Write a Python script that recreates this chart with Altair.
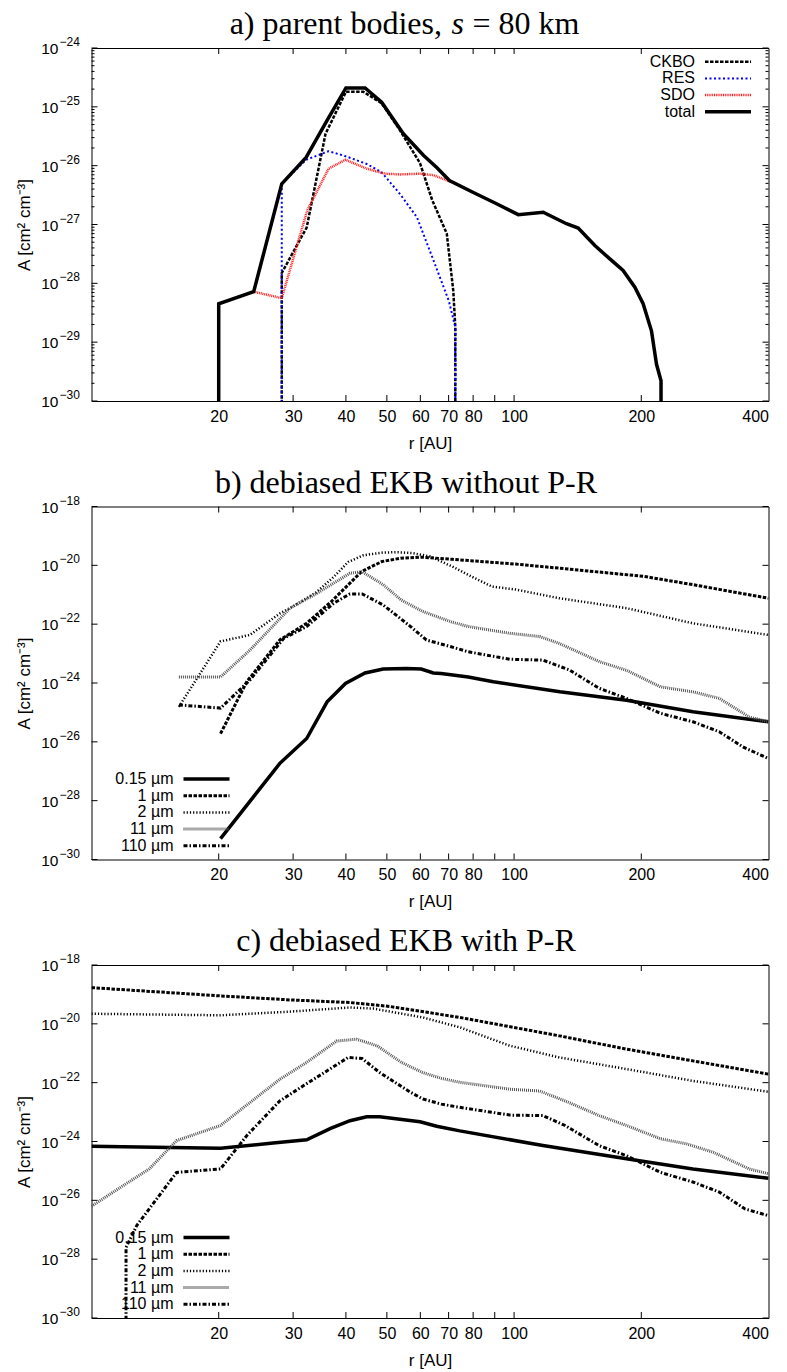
import altair as alt
import pandas as pd

# ---------------- panel a: parent bodies ----------------
A_CKBO_R = [28.2, 28.2, 32.3, 35.8, 40.0, 44.0, 48.6, 53.7, 59.9, 64.0, 69.3, 71.8, 72.6, 72.6]
A_CKBO_A = [1e-32, 1.5e-28, 8.9e-28, 3.5e-26, 1.8e-25, 1.8e-25, 1.15e-25, 4e-26, 1.1e-26, 2.6e-27, 7e-28, 7.5e-29, 1.8e-29, 1e-32]
A_RES_R = [28.2, 28.2, 32.2, 36.4, 39.9, 44.8, 48.6, 53.7, 58.9, 64.4, 70.1, 72.6, 72.6]
A_RES_A = [1e-32, 4.9e-27, 1.26e-26, 1.76e-26, 1.45e-26, 1.07e-26, 7.7e-27, 3.3e-27, 1.33e-27, 2.5e-28, 5e-29, 1.8e-29, 1e-32]
A_SDO_R = [24.2, 28.2, 32.4, 36.4, 39.9, 44.8, 49.5, 53.7, 59.9, 64.4, 71.4]
A_SDO_A = [7.2e-29, 5.6e-29, 1.74e-27, 8.9e-27, 1.26e-26, 8.9e-27, 7.3e-27, 7.1e-27, 7.3e-27, 6.9e-27, 5.2e-27]
A_TOT_R = [20, 20, 24.2, 28.2, 32.2, 36.1, 40.0, 44.4, 48.6, 54.7, 61.0, 65.6, 70.3, 80.1, 90.9,
           102.3, 117.2, 133, 141.8, 155.3, 168.5, 181.1, 193.1, 202, 211.4, 217.3, 222.7, 222.7]
A_TOT_A = [1e-32, 4.5e-29, 7.2e-29, 4.9e-27, 1.38e-26, 5.9e-26, 2.1e-25, 2.1e-25, 1.2e-25, 3.5e-26, 1.5e-26,
           9.3e-27, 5.6e-27, 3.5e-27, 2.25e-27, 1.47e-27, 1.62e-27, 1.03e-27, 8.7e-28, 4.4e-28, 2.6e-28,
           1.66e-28, 8.6e-29, 4.5e-29, 1.56e-29, 4.2e-30, 2.2e-30, 1e-32]

# ---------------- panel b: debiased EKB without P-R ----------------
B_015_R = [20.2, 27.9, 32.3, 36.1, 39.9, 44.4, 49, 55.6, 60.3, 64.4, 67.2, 77.9, 89.3, 128.3, 184.5, 265, 400]
B_015_A = [5.1e-30, 1.86e-27, 1.3e-26, 2.3e-25, 9.7e-25, 2.2e-24, 3e-24, 3.1e-24, 3e-24, 2.2e-24, 2.1e-24,
           1.6e-24, 1.1e-24, 5e-25, 2.6e-25, 1.05e-25, 4.8e-26]
B_1_R = [20.2, 23.3, 27.9, 32.3, 37, 43.6, 48.7, 54, 60.4, 71.4, 101, 128, 203, 265, 400]
B_1_A = [1.9e-26, 1.1e-24, 2.9e-23, 1.07e-22, 6e-22, 6.2e-21, 1.35e-20, 1.75e-20, 1.9e-20, 1.6e-20, 1.1e-20,
         8e-21, 4.2e-21, 2.2e-21, 7.6e-22]
B_2_R = [16.1, 20.2, 23.7, 27.9, 30, 34, 37.4, 40.5, 44, 48.7, 53, 57.5, 63.3, 71.4, 79.2, 88.6, 101, 128,
         184.5, 265, 400]
B_2_A = [1.55e-25, 2.6e-23, 4.3e-23, 2.3e-22, 4e-22, 1.2e-21, 4e-21, 1.3e-20, 2.2e-20, 2.7e-20, 2.8e-20, 2.6e-20,
         2e-20, 9.1e-21, 4.2e-21, 1.9e-21, 1.5e-21, 7.6e-22, 3.5e-22, 1.07e-22, 4.3e-23]
B_11_R = [16.1, 20.2, 23.7, 29.5, 34.1, 40.9, 43.7, 49, 54.1, 60.8, 71, 77.9, 97.7, 115, 128, 159.3, 184.5,
          222, 265, 306, 360, 400]
B_11_A = [1.6e-24, 1.6e-24, 1.3e-23, 3.5e-22, 1.1e-21, 5.4e-21, 6.1e-21, 2.2e-21, 6.6e-22, 2.7e-22, 1.2e-22,
          8.3e-23, 4.9e-23, 3.8e-23, 2.2e-23, 5.3e-24, 2.7e-24, 7.4e-25, 5e-25, 3e-25, 7e-26, 4.8e-26]
B_110_R = [16.1, 20.2, 23.7, 28.5, 32.3, 37.4, 40.9, 43.7, 49, 56.9, 62, 71, 77.9, 97.7, 117, 135, 159, 184.5,
           222, 265, 306, 348, 400]
B_110_A = [1.8e-25, 1.4e-25, 1.25e-24, 3.3e-23, 8.3e-23, 5.1e-22, 1.07e-21, 1.07e-21, 4.5e-22, 8.3e-23, 2.9e-23,
           1.7e-23, 1.15e-23, 6.4e-24, 6e-24, 2.8e-24, 6.6e-25, 3e-25, 9.3e-26, 4.8e-26, 2.2e-26, 6.7e-27, 2.7e-27]

# ---------------- panel c: debiased EKB with P-R ----------------
C_015_R = [10, 15.4, 20.2, 26.9, 32.3, 36.8, 40.9, 44.8, 48.1, 59.9, 65.6, 74.4, 117, 184.5, 265, 400]
C_015_A = [6.9e-25, 6.3e-25, 5.9e-25, 8.9e-25, 1.15e-24, 2.8e-24, 5.1e-24, 6.9e-24, 6.9e-24, 4.7e-24, 3.3e-24,
           2.3e-24, 7.3e-25, 2.6e-25, 1.17e-25, 5.6e-26]
C_1_R = [10, 20.2, 29.5, 40.9, 50.8, 74.4, 128, 184.5, 265, 400]
C_1_A = [1.7e-19, 8.9e-20, 6.5e-20, 5.3e-20, 3.9e-20, 1.65e-20, 3.9e-21, 1.38e-21, 5.5e-22, 1.95e-22]
C_2_R = [10, 20.2, 29.5, 40.9, 46.4, 60.8, 74.4, 97.7, 128, 184.5, 265, 400]
C_2_A = [2.2e-20, 1.95e-20, 2.6e-20, 3.6e-20, 3.3e-20, 1.65e-20, 7.6e-21, 1.8e-21, 7.2e-22, 2.9e-22, 1.15e-22, 4.9e-23]
C_11_R = [10, 11.9, 13.7, 15.9, 20.2, 23.7, 27.9, 32.3, 38, 42.4, 47.4, 54.1, 60.8, 67.3, 74.4, 97.7, 115, 135,
          159, 184.5, 222, 256, 296, 360, 400]
C_11_A = [6.3e-27, 3.2e-26, 1.17e-25, 1.07e-24, 3.5e-24, 2.1e-23, 1.3e-22, 4.9e-22, 2.6e-21, 3e-21, 1.8e-21,
          4.9e-22, 2.2e-22, 1.4e-22, 1.03e-22, 6e-23, 5.2e-23, 2.1e-23, 7.6e-24, 3.5e-24, 1.24e-24, 8.3e-25,
          4.3e-25, 1.17e-25, 8e-26]
C_110_R = [12.07, 12.07, 12.8, 15.9, 20.2, 23.3, 27.9, 31.7, 40.5, 43.7, 48.1, 56.9, 60.8, 67.3, 74.4, 97.7, 117,
           132, 159, 184.5, 222, 265, 306, 352, 400]
C_110_A = [1e-32, 2.5e-28, 1.4e-27, 8.9e-26, 1.17e-25, 1.58e-24, 2.4e-23, 7.8e-23, 7.2e-22, 6.6e-22, 2.2e-22,
           4.7e-23, 2.8e-23, 1.86e-23, 1.45e-23, 7.9e-24, 7.6e-24, 3.5e-24, 7.2e-25, 3.3e-25, 8.9e-26, 4.2e-26,
           1.9e-26, 5.1e-27, 3e-27]

# ---------------- ticks and labels ----------------
X_TICKS = [20, 30, 40, 50, 60, 70, 80, 90, 100, 200]
X_LABELS = [20, 30, 40, 50, 60, 70, 80, 100, 200, 400]
Y_MAJOR_A = [1e-30, 1e-29, 1e-28, 1e-27, 1e-26, 1e-25, 1e-24]
Y_EXP_A = ["\u221230", "\u221229", "\u221228", "\u221227", "\u221226", "\u221225", "\u221224"]
Y_MAJOR_BC = [1e-30, 1e-28, 1e-26, 1e-24, 1e-22, 1e-20, 1e-18]
Y_EXP_BC = ["\u221230", "\u221228", "\u221226", "\u221224", "\u221222", "\u221220", "\u221218"]
Y_MINOR_A = [m * 10.0 ** e for e in range(-30, -24) for m in range(2, 10)]

LEG_A = ["CKBO", "RES", "SDO", "total"]
LEG_BC = ["0.15 \u00b5m", "1 \u00b5m", "2 \u00b5m", "11 \u00b5m", "110 \u00b5m"]

W, H = 677, 353
SANS = "Liberation Sans"
SERIF = "Liberation Serif"

ST_TOTAL = dict(color="black", strokeWidth=3.5)
ST_CKBO = dict(color="black", strokeWidth=2.5, strokeDash=[3.5, 1.5])
ST_RES = dict(color="#0000ff", strokeWidth=2, strokeDash=[2, 2.5])
ST_SDO = dict(color="#ff2020", strokeWidth=2.5, strokeDash=[1, 0.8])
ST_015 = dict(color="black", strokeWidth=3.5)
ST_1 = dict(color="black", strokeWidth=3, strokeDash=[3.5, 1.5])
ST_2 = dict(color="black", strokeWidth=2.5, strokeDash=[1.2, 2])
ST_11 = dict(color="#555555", strokeWidth=3, strokeDash=[1, 1])
ST_110 = dict(color="black", strokeWidth=3, strokeDash=[4, 2, 1.5, 2])


def make_panel(series, ydom, ymaj, yexp, yminor, leg_labels, leg_styles, leg_x, leg_y0, leg_dy, titles):
    xs = alt.Scale(type="log", domain=[10, 400])
    ys = alt.Scale(type="log", domain=ydom)
    xax = alt.Axis(values=X_LABELS, format="d", ticks=False, domain=False, grid=False,
                   labelPadding=7, title="r [AU]", titlePadding=11)
    yax = alt.Axis(labels=False, ticks=False, domain=False, grid=False,
                   title="A [cm\u00b2 cm\u207b\u00b3]", titlePadding=58)
    layers = []
    for r, a, st in series:
        df = pd.DataFrame({"r": r, "A": a, "i": list(range(len(r)))})
        layers.append(alt.Chart(df).mark_line(clip=True, **st).encode(
            x=alt.X("r:Q", scale=xs, axis=xax),
            y=alt.Y("A:Q", scale=ys, axis=yax),
            order=alt.Order("i:Q")))
    # inward ticks
    xt = pd.DataFrame({"v": X_TICKS})
    for y1, y2 in [(H, H - 6), (0, 6)]:
        layers.append(alt.Chart(xt).mark_rule(color="black", strokeWidth=1).encode(
            x=alt.X("v:Q", scale=xs, axis=xax), y=alt.value(y1), y2=alt.value(y2)))
    yt = pd.DataFrame({"v": ymaj})
    for x1, x2 in [(0, 6), (W, W - 6)]:
        layers.append(alt.Chart(yt).mark_rule(color="black", strokeWidth=1).encode(
            y=alt.Y("v:Q", scale=ys, axis=yax), x=alt.value(x1), x2=alt.value(x2)))
    if yminor:
        ym = pd.DataFrame({"v": yminor})
        for x1, x2 in [(0, 3), (W, W - 3)]:
            layers.append(alt.Chart(ym).mark_rule(color="black", strokeWidth=1).encode(
                y=alt.Y("v:Q", scale=ys, axis=yax), x=alt.value(x1), x2=alt.value(x2)))
    # y tick labels 10^n
    yl = pd.DataFrame({"v": ymaj, "e": yexp})
    layers.append(alt.Chart(yl).mark_text(align="right", baseline="middle", font=SANS, fontSize=15.5,
                                          text="10", dy=1).encode(
        y=alt.Y("v:Q", scale=ys, axis=yax), x=alt.value(-33)))
    layers.append(alt.Chart(yl).mark_text(align="left", baseline="middle", font=SANS, fontSize=12,
                                          dy=-6).encode(
        y=alt.Y("v:Q", scale=ys, axis=yax), x=alt.value(-32), text="e:N"))
    # legend
    for j, (lab, st) in enumerate(zip(leg_labels, leg_styles)):
        yy = leg_y0 + j * leg_dy
        one = pd.DataFrame({"t": [lab]})
        layers.append(alt.Chart(one).mark_text(align="right", baseline="middle", font=SANS,
                                               fontSize=16).encode(
            text="t:N", x=alt.value(leg_x), y=alt.value(yy)))
        layers.append(alt.Chart(one).mark_rule(**st).encode(
            x=alt.value(leg_x + 10), x2=alt.value(leg_x + 56), y=alt.value(yy)))
    # title pieces
    for txt, tx, al, style in titles:
        one = pd.DataFrame({"t": [txt]})
        layers.append(alt.Chart(one).mark_text(align=al, baseline="alphabetic", font=SERIF, fontSize=32,
                                               fontStyle=style).encode(
            text="t:N", x=alt.value(tx), y=alt.value(-14)))
    return alt.layer(*layers).properties(width=W, height=H)


pa = make_panel(
    [(A_CKBO_R, A_CKBO_A, ST_CKBO), (A_RES_R, A_RES_A, ST_RES), (A_SDO_R, A_SDO_A, ST_SDO),
     (A_TOT_R, A_TOT_A, ST_TOTAL)],
    [1e-30, 1e-24], Y_MAJOR_A, Y_EXP_A, Y_MINOR_A,
    LEG_A, [ST_CKBO, ST_RES, ST_SDO, ST_TOTAL], 603.5, 13.7, 16.7,
    [("a) parent bodies,", 350.5, "right", "normal"), ("s", 360, "left", "italic"),
     ("= 80 km", 381, "left", "normal")])

pb = make_panel(
    [(B_015_R, B_015_A, ST_015), (B_1_R, B_1_A, ST_1), (B_2_R, B_2_A, ST_2),
     (B_11_R, B_11_A, ST_11), (B_110_R, B_110_A, ST_110)],
    [1e-30, 1e-18], Y_MAJOR_BC, Y_EXP_BC, None,
    LEG_BC, [ST_015, ST_1, ST_2, ST_11, ST_110], 82, 272.5, 16.7,
    [("b) debiased EKB without P-R", 314.5, "center", "normal")])

pc = make_panel(
    [(C_015_R, C_015_A, ST_015), (C_1_R, C_1_A, ST_1), (C_2_R, C_2_A, ST_2),
     (C_11_R, C_11_A, ST_11), (C_110_R, C_110_A, ST_110)],
    [1e-30, 1e-18], Y_MAJOR_BC, Y_EXP_BC, None,
    LEG_BC, [ST_015, ST_1, ST_2, ST_11, ST_110], 82, 272.5, 16.7,
    [("c) debiased EKB with P-R", 314.5, "center", "normal")])

chart = alt.vconcat(pa, pb, pc, spacing=105.5, bounds="flush").properties(
    padding={"left": 14.5, "top": 7, "right": 8, "bottom": 4}, background="white"
).configure_view(stroke="black", strokeWidth=1).configure_axis(
    labelFont=SANS, titleFont=SANS, labelFontSize=16, titleFontSize=17, titleFontWeight="normal",
    labelColor="black", titleColor="black")

chart.save("out.html", embed_options={"renderer": "svg", "actions": False})
